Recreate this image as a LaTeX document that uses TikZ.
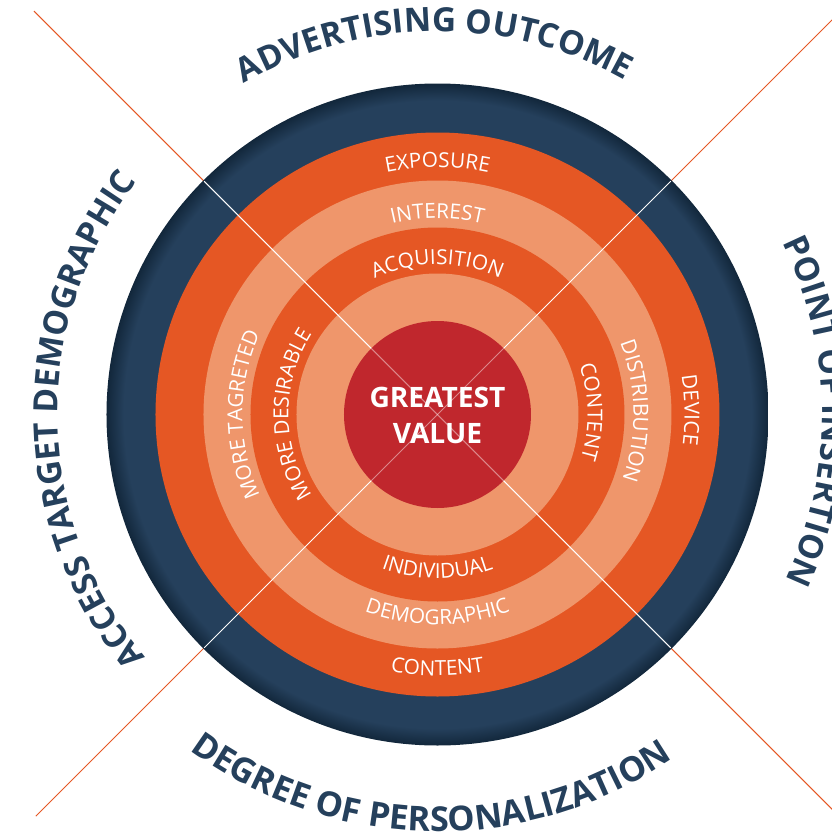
\documentclass[tikz,border=0pt]{standalone}
\usepackage{fontspec}
\setmainfont{Open Sans}
\usetikzlibrary{decorations.text}
\definecolor{navy}{HTML}{25405C}
\definecolor{navyedge}{HTML}{12273B}
\definecolor{rimorange}{HTML}{E55724}
\definecolor{peach}{HTML}{EF966B}
\definecolor{core}{HTML}{C0272D}
\pgfdeclareradialshading{navyrim}{\pgfpoint{0cm}{0cm}}{color(0bp)=(navy); color(23.7bp)=(navy); color(25bp)=(navyedge); color(50bp)=(navyedge)}
\newcommand{\ringfont}{\fontsize{11.8}{11.8}\selectfont}
\newcommand{\titlefont}{\bfseries\fontsize{19}{19}\selectfont}
\begin{document}
\begin{tikzpicture}
    \tikzstyle{ringtext} = [decorate, decoration={text along path, text align=center, text color=white}]
    \tikzstyle{titletext} = [decorate, decoration={text along path, text align=center, text color=navy}]
    \tikzstyle{rule} = [rimorange, line width=0.6pt]
    \tikzstyle{cross} = [white, line width=0.6pt]
    \useasboundingbox (-8.75,-8.47) rectangle (7.89,8.29);
    % diagonals
    \coordinate (nw) at (135:11.41);
    \coordinate (se) at (-45:13);
    \coordinate (sw) at (225:11.36);
    \coordinate (ne) at (45:13);
    \coordinate (nwin) at (135:6.6);
    \coordinate (sein) at (-45:6.6);
    \coordinate (swin) at (225:6.6);
    \coordinate (nein) at (45:6.6);
    \draw[rule] (nw) -- (se);
    \draw[rule] (sw) -- (ne);
    % rings
    \shade[shading=navyrim] (0,0) circle (6.62);
    \fill[rimorange] (0,0) circle (5.64);
    \fill[peach] (0,0) circle (4.68);
    \fill[rimorange] (0,0) circle (3.74);
    \fill[peach] (0,0) circle (2.82);
    \draw[cross] (nwin) -- (sein);
    \draw[cross] (swin) -- (nein);
    \fill[core] (0,0) circle (1.87);
    \draw[cross, opacity=0.45] (135:1.87) -- (-45:1.87);
    \draw[cross, opacity=0.45] (225:1.87) -- (45:1.87);
    \node[text=white, align=center, font=\bfseries\fontsize{16}{21}\selectfont] (value) at (0,-0.02) {GREATEST\\VALUE};
    % ring labels
    \path[ringtext, decoration={text={|\ringfont|EXPOSURE}}] (150:4.94) arc[start angle=150, end angle=30, radius=4.94];
    \path[ringtext, decoration={text={|\ringfont|INTEREST}}] (150:3.92) arc[start angle=150, end angle=30, radius=3.92];
    \path[ringtext, decoration={text={|\ringfont|ACQUISITION}}] (150:3.0) arc[start angle=150, end angle=30, radius=3.0];
    \path[ringtext, decoration={text={|\ringfont|DEVICE}}] (61:4.94) arc[start angle=61, end angle=-59, radius=4.94];
    \path[ringtext, decoration={text={|\ringfont|DISTRIBUTION}}] (61:3.92) arc[start angle=61, end angle=-59, radius=3.92];
    \path[ringtext, decoration={text={|\ringfont|CONTENT}}] (61:3.0) arc[start angle=61, end angle=-59, radius=3.0];
    \path[ringtext, decoration={text={|\ringfont|MORE TAGRETED}}] (240:3.9) arc[start angle=240, end angle=120, radius=3.9];
    \path[ringtext, decoration={text={|\ringfont|MORE DESIRABLE}}] (240:2.98) arc[start angle=240, end angle=120, radius=2.98];
    \path[ringtext, decoration={text={|\ringfont|CONTENT}}] (210:5.22) arc[start angle=210, end angle=330, radius=5.22];
    \path[ringtext, decoration={text={|\ringfont|DEMOGRAPHIC}}] (210:4.2) arc[start angle=210, end angle=330, radius=4.2];
    \path[ringtext, decoration={text={|\ringfont|INDIVIDUAL}}] (210:3.28) arc[start angle=210, end angle=330, radius=3.28];
    % outer titles
    \path[titletext, decoration={text={|\titlefont|ADVERTISING OUTCOME}}] (150.5:7.66) arc[start angle=150.5, end angle=30.5, radius=7.66];
    \path[titletext, decoration={text={|\titlefont|POINT OF INSERTION}}] (60.5:7.7) arc[start angle=60.5, end angle=-59.5, radius=7.7];
    \path[titletext, decoration={text={|\titlefont|ACCESS TARGET DEMOGRAPHIC}}] (241:7.6) arc[start angle=241, end angle=121, radius=7.6];
    \path[titletext, decoration={text={|\bfseries\fontsize{19.5}{19.5}\selectfont|DEGREE OF PERSONALIZATION}}] (209:8.34) arc[start angle=209, end angle=329, radius=8.34];
\end{tikzpicture}
\end{document}
